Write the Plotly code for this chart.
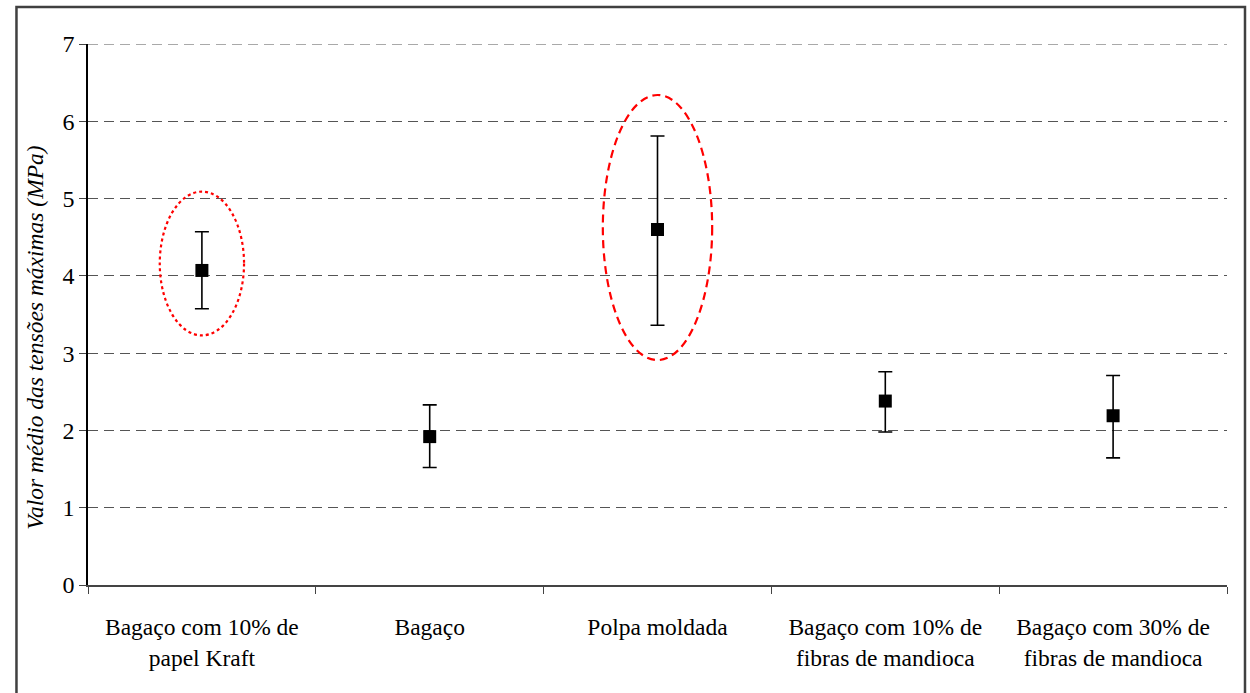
import plotly.graph_objects as go

categories = [
    "Bagaço com 10% de<br>papel Kraft",
    "Bagaço",
    "Polpa moldada",
    "Bagaço com 10% de<br>fibras de mandioca",
    "Bagaço com 30% de<br>fibras de mandioca",
]
means = [4.07, 1.92, 4.60, 2.38, 2.19]
upper = [4.57, 2.33, 5.81, 2.76, 2.71]
lower = [3.575, 1.52, 3.36, 1.98, 1.645]

# highlighted groups: (category index, half width in category units, y bottom, y top, dash)
highlights = [
    (0, 0.185, 3.23, 5.09, "dot"),
    (2, 0.24, 2.91, 6.34, "8px,5px"),
]
y_max = 7
y_title = "Valor médio das tensões máximas (MPa)"

err_plus = [u - m for u, m in zip(upper, means)]
err_minus = [m - l for m, l in zip(means, lower)]

font_family = "Liberation Serif"
grid_dash = "10px,6px"

fig = go.Figure()
fig.add_trace(go.Scatter(
    x=categories, y=means, mode="markers",
    marker=dict(symbol="square", size=13, color="black"),
    error_y=dict(type="data", symmetric=False, array=err_plus, arrayminus=err_minus,
                 color="black", thickness=1.6, width=7),
    showlegend=False,
))

for idx, hw, y0, y1, dash in highlights:
    fig.add_shape(type="circle", xref="x", yref="y",
                  x0=idx - hw, x1=idx + hw, y0=y0, y1=y1,
                  line=dict(color="#ff0000", width=2.2, dash=dash), layer="above")

# top gridline (plotly skips grid at the range edge)
fig.add_shape(type="line", xref="paper", yref="y", x0=0, x1=1, y0=y_max, y1=y_max,
              line=dict(color="#555", width=1, dash=grid_dash), layer="below")

# outer frame
fig.add_shape(type="rect", xref="paper", yref="paper",
              x0=-0.0628, x1=1.0158, y0=-0.3, y1=1.0683,
              line=dict(color="#404040", width=2.5))

# y-axis title (placed slightly below the axis centre, as in the reference)
fig.add_annotation(text="<i>" + y_title + "</i>", xref="paper", yref="paper",
                   x=-0.0465, y=0.457, textangle=-90, showarrow=False,
                   xanchor="center", yanchor="middle",
                   font=dict(family=font_family, size=23.5, color="black"))

fig.update_layout(
    width=1250, height=693,
    margin=dict(l=88, r=23, t=44, b=108),
    paper_bgcolor="white", plot_bgcolor="white",
    font=dict(family=font_family, size=22, color="black"),
    xaxis=dict(
        type="category", tickson="boundaries", ticks="outside", ticklen=7,
        tickcolor="#444", showline=True, linecolor="#444", linewidth=1.5,
        showgrid=False, range=[-0.5, 4.5], ticklabelstandoff=20,
        tickfont=dict(family=font_family, size=23.5),
    ),
    yaxis=dict(
        range=[0, y_max], dtick=1, ticks="outside", ticklen=7, tickcolor="#444",
        showline=True, linecolor="black", linewidth=1.5,
        showgrid=True, gridcolor="#555", gridwidth=1, griddash=grid_dash,
        zeroline=False,
        tickfont=dict(family=font_family, size=24),
    ),
)

fig.write_html("out.html")
